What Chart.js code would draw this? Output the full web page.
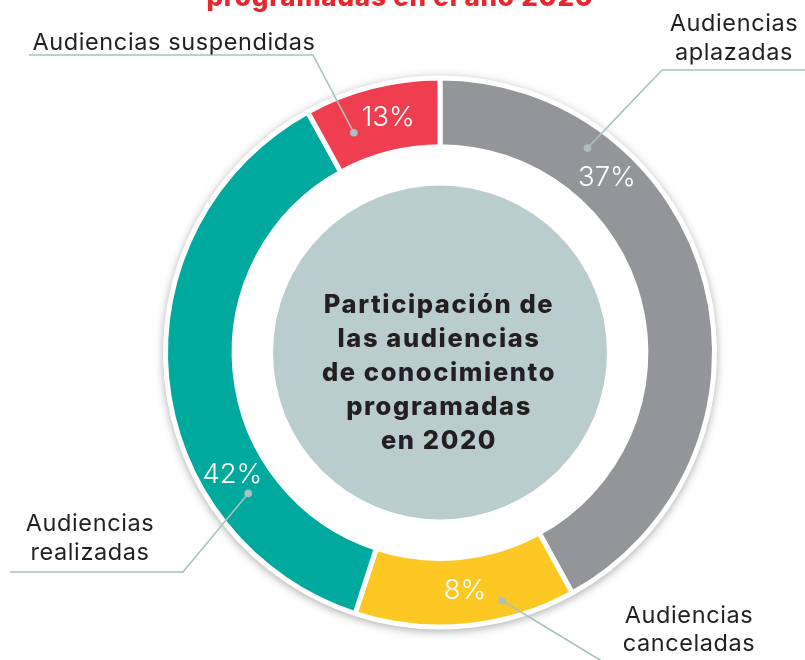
<!DOCTYPE html>
<html lang="es">
<head>
<meta charset="utf-8">
<title>Participación de las audiencias de conocimiento programadas en 2020</title>
<script src="https://cdn.jsdelivr.net/npm/chart.js"></script>
<style>
  html, body { margin: 0; padding: 0; background: #fff; }
  #wrap { position: relative; width: 805px; height: 660px; overflow: hidden; }
</style>
</head>
<body>
<div id="wrap"><canvas id="donutChart" width="805" height="660"></canvas></div>
<script>
  // Data
  const categories = ['Audiencias aplazadas', 'Audiencias canceladas', 'Audiencias realizadas', 'Audiencias suspendidas'];
  const arcShares = [42, 13, 37, 8];        // size of each ring segment as it is drawn (%)
  const printedShares = [37, 8, 42, 13];    // figure printed on each segment (%)
  const centerLines = ['Participación de', 'las audiencias', 'de conocimiento', 'programadas', 'en 2020'];
  const titleText = 'programadas en el año 2020';

  // Styles
  const segmentColors = ['#939598', '#fdc823', '#00a99d', '#ef3e4f'];
  const innerFill = '#b9cdcf';
  const leaderColor = '#abc0c0';
  const textColor = '#231f20';
  const FONT = 'Inter, "Open Sans", sans-serif';

  // Callout layout: angle (deg, clockwise from top) and radius for the % label and dot,
  // then the leader path and the caption position
  const callouts = [
    { pct: [43.6, 242], dot: [35.8, 252], path: [[662, 70], [805, 70]], cap: { x: 734, y: [31, 60] } },
    { pct: [174, 240], dot: [165.9, 256], path: [[600, 660], [612, 668]], cap: { x: 689, y: [623, 651] } },
    { pct: [239.5, 241], dot: [233.7, 238], path: [[183, 572], [10, 572]], cap: { x: 90, y: [531, 560] } },
    { pct: [347.5, 240], dot: [338.6, 236], path: [[313, 55], [29, 55]], cap: { x: 174, y: [50] } }
  ];

  function polar(cx, cy, deg, r) {
    const a = (deg - 90) * Math.PI / 180;
    return [cx + r * Math.cos(a), cy + r * Math.sin(a)];
  }

  // Shadow behind the ring
  const ringShadow = {
    id: 'ringShadow',
    beforeDatasetsDraw(chart) {
      const arc = chart.getDatasetMeta(0).data[0];
      const ctx = chart.ctx;
      ctx.save();
      ctx.beginPath();
      ctx.arc(arc.x, arc.y, arc.outerRadius + 2, 0, Math.PI * 2);
      ctx.fillStyle = '#fff';
      ctx.shadowColor = 'rgba(0,0,0,0.35)';
      ctx.shadowBlur = 10;
      ctx.shadowOffsetY = 2;
      ctx.fill();
      ctx.restore();
    }
  };

  // Inner disc, centre text, % labels, leaders and captions
  const decorations = {
    id: 'decorations',
    afterDatasetsDraw(chart) {
      const meta = chart.getDatasetMeta(0);
      const ctx = chart.ctx;
      const cx = meta.data[0].x, cy = meta.data[0].y;

      ctx.save();
      // inner disc
      ctx.beginPath();
      ctx.arc(cx, cy, 167, 0, Math.PI * 2);
      ctx.fillStyle = innerFill;
      ctx.fill();

      // centre text
      ctx.fillStyle = textColor;
      ctx.textAlign = 'center';
      ctx.textBaseline = 'alphabetic';
      ctx.font = '800 25.5px ' + FONT;
      ctx.letterSpacing = '1.6px';
      centerLines.forEach((line, i) => {
        ctx.fillText(line, cx - 1, 313 + i * 34);
      });

      // title (cut off at the top)
      ctx.fillStyle = '#e8262d';
      ctx.font = '800 26px ' + FONT;
      ctx.letterSpacing = '0.8px';
      ctx.fillText(titleText, 400, 6);

      // leaders
      ctx.letterSpacing = '0px';
      callouts.forEach((c, i) => {
        const [dx, dy] = polar(cx, cy, c.dot[0], c.dot[1]);
        ctx.strokeStyle = leaderColor;
        ctx.lineWidth = 1.6;
        ctx.beginPath();
        ctx.moveTo(dx, dy);
        c.path.forEach(p => ctx.lineTo(p[0], p[1]));
        ctx.stroke();
        ctx.beginPath();
        ctx.arc(dx, dy, 3.8, 0, Math.PI * 2);
        ctx.fillStyle = leaderColor;
        ctx.fill();
      });

      // % labels
      ctx.fillStyle = '#fff';
      ctx.textBaseline = 'middle';
      ctx.font = '300 27.5px ' + FONT;
      callouts.forEach((c, i) => {
        const [px, py] = polar(cx, cy, c.pct[0], c.pct[1]);
        ctx.fillText(printedShares[i] + '%', px, py);
      });

      // captions
      ctx.fillStyle = textColor;
      ctx.textBaseline = 'alphabetic';
      ctx.font = '400 23.5px ' + FONT;
      ctx.letterSpacing = '0.6px';
      callouts.forEach((c, i) => {
        const words = c.cap.y.length > 1 ? categories[i].split(' ') : [categories[i]];
        words.forEach((w, j) => ctx.fillText(w, c.cap.x, c.cap.y[j]));
      });
      ctx.restore();
    }
  };

  function initChart() {
    const ctx = document.getElementById('donutChart').getContext('2d');
    new Chart(ctx, {
      type: 'doughnut',
      data: {
        labels: categories,
        datasets: [{
          data: arcShares,
          backgroundColor: segmentColors,
          borderColor: '#ffffff',
          borderWidth: 5,
          hoverOffset: 0
        }]
      },
      options: {
        responsive: false,
        animation: false,
        radius: 274.5,
        cutout: '75%',
        layout: { padding: { left: 160, right: 85, top: 72.5, bottom: 27.5 } },
        plugins: {
          legend: { display: false },
          tooltip: { enabled: false }
        },
        events: []
      },
      plugins: [ringShadow, decorations]
    });
  }

  initChart();
</script>
</body>
</html>
